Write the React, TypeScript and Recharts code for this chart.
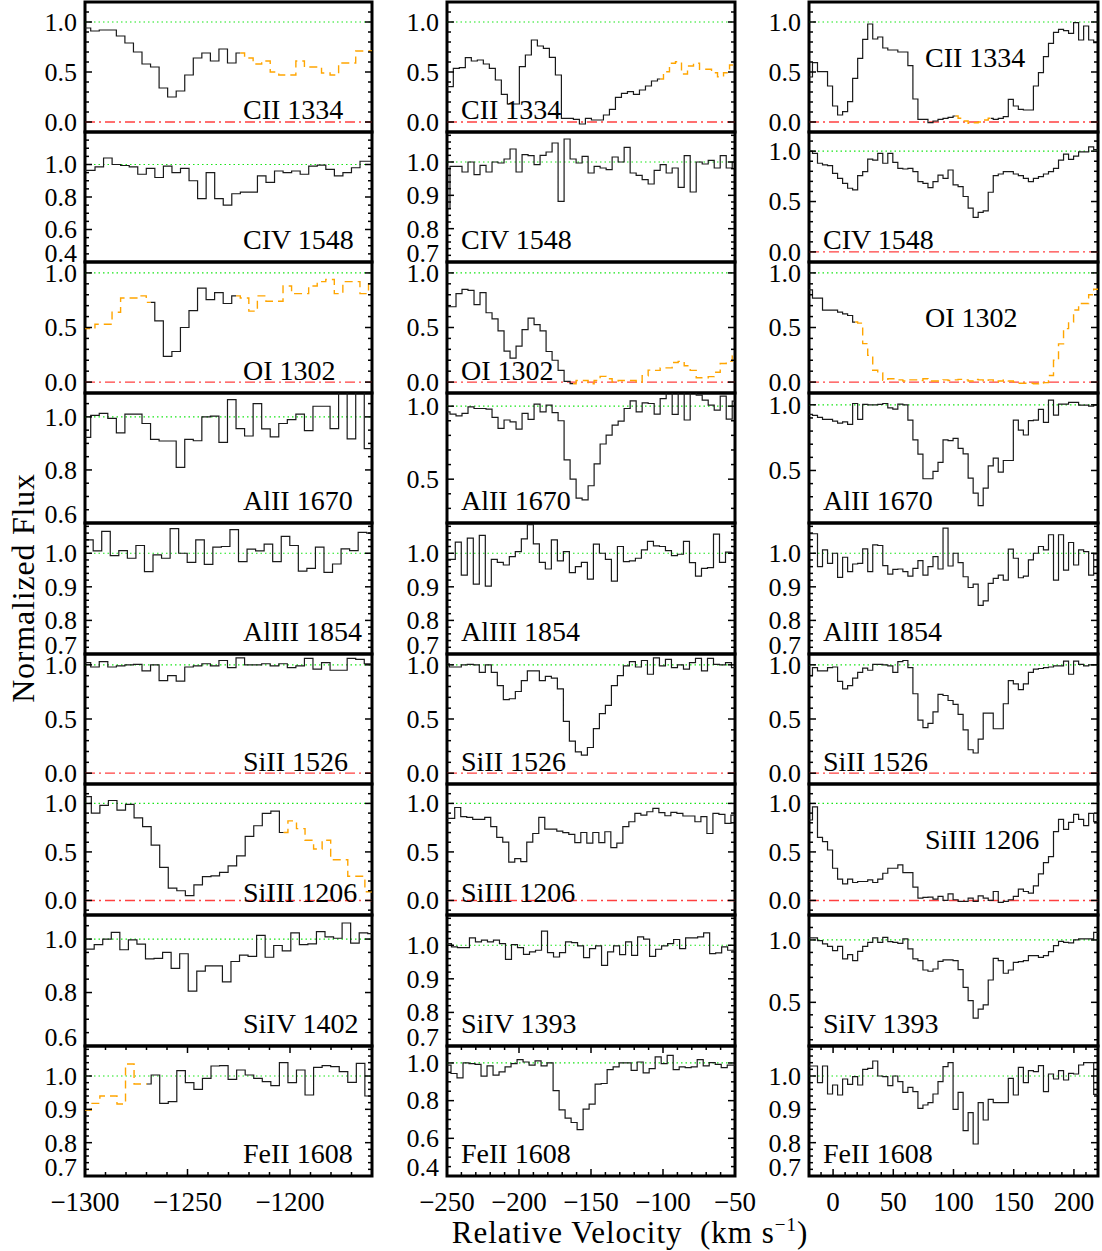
import React from 'react';
import { LineChart, Line, XAxis, YAxis, ReferenceLine, ReferenceArea } from 'recharts';

const FONT = '"Liberation Serif", "Times New Roman", Times, serif';

// velocity width of one spectral bin (km/s)
const DV = 4.17;

// x ranges and labelled ticks of the three columns
const velRanges: [number, number][] = [[-1300, -1160], [-250, -50], [-20, 220]];
const velTicks: number[][] = [
  [-1300, -1250, -1200],
  [-250, -200, -150, -100, -50],
  [0, 50, 100, 150, 200],
];

const labelsA = ['CII 1334', 'CIV 1548', 'OI 1302', 'AlII 1670', 'AlIII 1854', 'SiII 1526', 'SiIII 1206', 'SiIV 1402', 'FeII 1608'];
const labelsB = ['CII 1334', 'CIV 1548', 'OI 1302', 'AlII 1670', 'AlIII 1854', 'SiII 1526', 'SiIII 1206', 'SiIV 1393', 'FeII 1608'];
const labelsC = ['CII 1334', 'CIV 1548', 'OI 1302', 'AlII 1670', 'AlIII 1854', 'SiII 1526', 'SiIII 1206', 'SiIV 1393', 'FeII 1608'];

// y ranges per row: [colA, colB, colC]
const yRanges: [number, number][][] = [
  [[-0.1, 1.2], [-0.1, 1.2], [-0.1, 1.2]],
  [[0.4, 1.2], [0.7, 1.09], [-0.1, 1.19]],
  [[-0.1, 1.1], [-0.1, 1.1], [-0.1, 1.1]],
  [[0.6, 1.09], [0.2, 1.09], [0.1, 1.09]],
  [[0.7, 1.09], [0.7, 1.09], [0.7, 1.09]],
  [[-0.1, 1.1], [-0.1, 1.1], [-0.1, 1.1]],
  [[-0.15, 1.2], [-0.15, 1.2], [-0.15, 1.2]],
  [[0.6, 1.09], [0.7, 1.09], [0.15, 1.2]],
  [[0.7, 1.09], [0.4, 1.09], [0.7, 1.09]],
];

const yTicks: number[][][] = [
  [[0, 0.5, 1], [0, 0.5, 1], [0, 0.5, 1]],
  [[0.4, 0.6, 0.8, 1], [0.7, 0.8, 0.9, 1], [0, 0.5, 1]],
  [[0, 0.5, 1], [0, 0.5, 1], [0, 0.5, 1]],
  [[0.6, 0.8, 1], [0.5, 1], [0.5, 1]],
  [[0.7, 0.8, 0.9, 1], [0.7, 0.8, 0.9, 1], [0.7, 0.8, 0.9, 1]],
  [[0, 0.5, 1], [0, 0.5, 1], [0, 0.5, 1]],
  [[0, 0.5, 1], [0, 0.5, 1], [0, 0.5, 1]],
  [[0.6, 0.8, 1], [0.7, 0.8, 0.9, 1], [0.5, 1]],
  [[0.7, 0.8, 0.9, 1], [0.4, 0.6, 0.8, 1], [0.7, 0.8, 0.9, 1]],
];

// first bin centre (km/s) of each spectrum
const startA = [-1299.3, -1297.2, -1301.4, -1299.3, -1298.1, -1299.3, -1299, -1297.6, -1299];
const startB = [-247.7, -250, -250, -250, -250.5, -250.5, -250.9, -249, -249.3];
const startC = [-19.2, -19.2, -19.2, -19.2, -19.2, -19.2, -19.2, -19.2, -19.2];

// bin index ranges that are blended (orange dashed)
const blendA: [number, number][][] = [[[18, 33]], [], [[0, 8], [18, 34]], [], [], [], [[23, 33]], [], [[0, 7]]];
const blendB: [number, number][][] = [[[35, 48]], [], [[21, 48]], [], [], [], [], [], []];
const blendC: [number, number][][] = [[[29, 36]], [], [[9, 58]], [], [], [], [], [], []];

// ---- column A: -1300 .. -1160 km/s
const ciiA = [0.94, 0.91, 0.92, 0.92, 0.86, 0.79, 0.70, 0.58, 0.55, 0.34, 0.25, 0.31, 0.47, 0.64, 0.69, 0.61, 0.73, 0.59, 0.69, 0.64, 0.58, 0.61, 0.50, 0.47, 0.47, 0.61, 0.55, 0.55, 0.49, 0.47, 0.59, 0.59, 0.71, 0.71];
const civA = [0.964, 0.986, 1.04, 1.0, 0.994, 0.986, 0.94, 0.976, 0.92, 0.99, 0.95, 0.976, 0.90, 0.79, 0.95, 0.79, 0.75, 0.82, 0.83, 0.83, 0.93, 0.89, 0.96, 0.95, 0.96, 0.94, 0.99, 0.996, 0.97, 0.93, 0.95, 0.98, 1.02, 1.02];
const oiA = [0.49, 0.49, 0.53, 0.53, 0.64, 0.77, 0.77, 0.79, 0.73, 0.56, 0.235, 0.28, 0.50, 0.655, 0.86, 0.755, 0.82, 0.72, 0.79, 0.77, 0.65, 0.79, 0.74, 0.74, 0.88, 0.81, 0.81, 0.88, 0.92, 0.94, 0.81, 0.92, 0.92, 0.81, 0.90];
const alIIA = [0.923, 1.006, 1.013, 0.994, 0.94, 1.01, 1.01, 0.975, 0.915, 0.909, 0.909, 0.81, 0.915, 0.91, 1.0, 1.003, 0.904, 1.065, 0.956, 0.928, 1.05, 0.955, 0.925, 0.975, 0.99, 1.01, 0.948, 1.04, 1.04, 0.956, 1.12, 0.917, 1.12, 0.88];
const alIIIA = [1.04, 1.007, 1.065, 0.993, 1.008, 0.985, 1.023, 0.945, 0.995, 0.985, 1.073, 1.0, 0.973, 1.04, 0.967, 1.018, 1.02, 1.07, 0.975, 1.012, 1.007, 1.027, 0.975, 1.05, 1.023, 0.947, 0.955, 1.018, 0.943, 0.968, 1.013, 1.008, 1.062, 1.06];
const siIIA = [1.02, 0.98, 1.03, 0.98, 0.99, 1.0, 1.005, 0.945, 1.0, 0.855, 0.90, 0.85, 0.98, 0.99, 1.01, 0.99, 1.04, 0.975, 1.065, 1.0, 1.0, 1.01, 0.99, 1.01, 0.975, 0.99, 1.06, 0.96, 1.02, 0.95, 0.95, 1.06, 1.05, 1.01];
const siIIIA = [1.07, 0.90, 0.98, 1.03, 0.93, 0.99, 0.85, 0.76, 0.57, 0.34, 0.127, 0.10, 0.05, 0.16, 0.246, 0.253, 0.29, 0.357, 0.46, 0.66, 0.77, 0.897, 0.92, 0.70, 0.82, 0.74, 0.62, 0.53, 0.62, 0.42, 0.42, 0.25, 0.25, 0.09];
const siIVA = [0.962, 0.979, 1.0, 1.025, 0.96, 0.997, 0.981, 0.926, 0.928, 0.95, 0.89, 0.945, 0.805, 0.88, 0.90, 0.90, 0.84, 0.916, 0.94, 0.935, 1.014, 0.932, 0.976, 0.956, 1.023, 0.979, 0.982, 1.028, 1.008, 1.003, 1.06, 0.985, 1.023, 1.02];
const feIIA = [0.898, 0.918, 0.94, 0.94, 0.916, 1.036, 0.976, 0.976, 1.003, 0.918, 0.923, 1.016, 0.98, 0.96, 0.993, 1.03, 1.031, 0.99, 1.018, 1.003, 0.993, 0.983, 0.971, 1.04, 0.98, 1.018, 0.943, 1.026, 1.031, 1.028, 1.013, 0.981, 1.038, 0.94];

// ---- column B: -250 .. -50 km/s
const ciiB = [0.353, 0.537, 0.543, 0.643, 0.61, 0.62, 0.58, 0.537, 0.42, 0.277, 0.18, 0.18, 0.553, 0.67, 0.82, 0.76, 0.737, 0.647, 0.47, 0.037, 0.037, 0.027, -0.02, 0.037, 0.02, 0.02, 0.07, 0.127, 0.247, 0.287, 0.303, 0.277, 0.32, 0.36, 0.41, 0.43, 0.503, 0.587, 0.603, 0.48, 0.56, 0.587, 0.527, 0.527, 0.493, 0.453, 0.493, 0.57, 0.57];
const civB = [0.86, 0.987, 0.987, 0.97, 1.0, 0.962, 0.99, 0.97, 1.0, 0.997, 1.009, 1.039, 0.97, 1.022, 1.019, 0.992, 1.02, 1.03, 1.057, 0.882, 1.069, 1.009, 0.997, 1.017, 0.967, 0.987, 0.982, 0.977, 1.015, 1.0, 1.044, 0.967, 0.96, 0.947, 0.934, 0.975, 0.992, 0.967, 0.982, 0.924, 1.019, 0.91, 1.0, 0.994, 1.005, 0.982, 1.019, 0.982, 1.0];
const oiB = [0.69, 0.69, 0.81, 0.85, 0.84, 0.71, 0.82, 0.635, 0.579, 0.47, 0.283, 0.22, 0.33, 0.48, 0.585, 0.527, 0.47, 0.28, 0.2, 0.107, 0.007, -0.015, 0.015, 0.015, -0.015, 0.015, 0.052, 0.03, 0.0, 0.015, 0.015, 0.015, 0.0, 0.058, 0.11, 0.107, 0.13, 0.13, 0.18, 0.19, 0.15, 0.107, 0.04, 0.04, 0.05, 0.09, 0.17, 0.19, 0.24];
const alIIB = [0.961, 0.945, 0.934, 0.95, 0.995, 0.984, 0.984, 0.98, 0.923, 0.848, 0.905, 0.893, 0.843, 0.95, 0.909, 1.014, 0.961, 1.007, 0.955, 0.9, 0.632, 0.5, 0.37, 0.359, 0.455, 0.605, 0.741, 0.802, 0.87, 0.898, 0.984, 1.036, 0.961, 1.023, 1.018, 0.945, 1.052, 1.11, 0.943, 1.11, 0.905, 1.11, 1.075, 1.041, 1.007, 0.973, 1.068, 0.911, 1.034];
const alIIIB = [0.982, 0.982, 1.033, 0.935, 1.045, 0.908, 1.053, 0.902, 0.982, 0.973, 0.965, 0.99, 1.005, 1.043, 1.085, 1.028, 0.973, 0.953, 1.04, 0.977, 1.005, 0.942, 0.96, 0.973, 0.923, 1.027, 1.0, 0.982, 0.917, 1.02, 0.975, 0.977, 0.985, 1.01, 1.035, 1.022, 1.02, 1.008, 0.993, 0.997, 1.035, 0.972, 0.932, 0.955, 0.957, 1.057, 0.973, 1.003, 1.0];
const siIIB = [1.01, 0.98, 0.98, 1.0, 1.005, 1.0, 0.93, 1.0, 0.93, 0.808, 0.678, 0.687, 0.754, 0.854, 0.945, 0.945, 0.854, 0.893, 0.878, 0.778, 0.478, 0.295, 0.197, 0.167, 0.237, 0.411, 0.549, 0.625, 0.808, 0.9, 0.99, 1.03, 0.98, 1.04, 0.913, 1.065, 0.99, 1.05, 0.975, 1.0, 0.96, 1.02, 1.06, 0.945, 1.06, 1.005, 1.0, 1.02, 0.975];
const siIIIB = [0.846, 0.846, 0.958, 0.863, 0.856, 0.835, 0.835, 0.856, 0.76, 0.65, 0.6, 0.395, 0.43, 0.40, 0.6, 0.69, 0.856, 0.736, 0.736, 0.715, 0.698, 0.68, 0.596, 0.70, 0.59, 0.70, 0.596, 0.708, 0.544, 0.59, 0.76, 0.811, 0.897, 0.88, 0.914, 0.948, 0.904, 0.873, 0.907, 0.897, 0.87, 0.87, 0.811, 0.863, 0.69, 0.897, 0.887, 0.794, 0.88];
const siIVB = [1.005, 0.995, 0.993, 0.993, 1.022, 1.01, 1.015, 1.01, 1.015, 1.005, 0.958, 1.002, 0.993, 0.973, 0.98, 0.985, 1.042, 0.978, 0.965, 0.978, 1.01, 1.008, 0.998, 0.963, 0.99, 0.998, 0.94, 0.98, 0.998, 0.972, 1.01, 0.97, 1.025, 1.018, 0.967, 0.988, 0.998, 1.005, 1.017, 0.99, 1.022, 1.022, 1.025, 1.037, 0.975, 0.977, 0.995, 0.985, 0.985];
const feIIB = [0.988, 0.944, 0.921, 1.0, 0.996, 0.993, 0.93, 0.984, 0.935, 0.953, 0.979, 0.996, 1.018, 1.005, 0.988, 1.011, 0.984, 1.0, 0.853, 0.751, 0.707, 0.684, 0.646, 0.755, 0.782, 0.888, 0.891, 0.965, 0.979, 1.0, 1.0, 0.961, 1.005, 0.947, 0.97, 1.032, 0.996, 1.04, 0.965, 0.979, 0.975, 0.979, 1.018, 0.984, 1.002, 0.993, 0.975, 0.988, 0.988];

// ---- column C: -20 .. 220 km/s
const ciiC = [0.45, 0.593, 0.503, 0.503, 0.36, 0.16, 0.07, 0.103, 0.203, 0.437, 0.637, 0.827, 0.98, 0.83, 0.85, 0.74, 0.72, 0.72, 0.70, 0.70, 0.563, 0.23, 0.027, 0.027, -0.007, 0.01, 0.027, 0.037, 0.047, 0.06, 0.037, 0.01, -0.013, -0.007, 0.0, 0.02, 0.037, 0.027, 0.037, 0.053, 0.227, 0.16, 0.127, 0.12, 0.12, 0.36, 0.493, 0.653, 0.787, 0.897, 0.927, 0.913, 0.887, 0.993, 0.82, 0.96, 0.82, 0.793];
const civC = [1.0, 0.977, 0.88, 0.863, 0.857, 0.78, 0.73, 0.681, 0.632, 0.615, 0.757, 0.796, 0.921, 0.911, 0.977, 0.88, 0.977, 0.888, 0.829, 0.823, 0.829, 0.796, 0.698, 0.681, 0.638, 0.698, 0.763, 0.73, 0.813, 0.665, 0.648, 0.55, 0.435, 0.343, 0.392, 0.408, 0.592, 0.757, 0.773, 0.796, 0.796, 0.773, 0.757, 0.73, 0.698, 0.73, 0.747, 0.773, 0.796, 0.829, 0.911, 0.97, 0.918, 0.95, 0.993, 0.993, 1.043, 1.016, 0.993];
const oiC = [0.845, 0.77, 0.77, 0.66, 0.66, 0.66, 0.64, 0.624, 0.61, 0.55, 0.54, 0.352, 0.245, 0.108, 0.084, 0.017, 0.03, 0.03, 0.02, 0.01, 0.02, 0.02, 0.015, 0.03, 0.01, 0.01, 0.01, 0.02, 0.015, 0.02, 0.025, 0.02, 0.01, 0.025, 0.02, 0.01, 0.02, 0.0, 0.01, 0.02, 0.01, 0.0, -0.01, -0.01, -0.01, -0.015, -0.01, -0.005, 0.06, 0.2, 0.35, 0.49, 0.55, 0.66, 0.72, 0.72, 0.8, 0.85, 0.85];
const alIIC = [0.927, 0.92, 0.905, 0.889, 0.889, 0.876, 0.86, 0.87, 0.851, 1.01, 0.889, 1.003, 1.0, 1.0, 1.003, 1.01, 0.977, 0.967, 1.005, 1.0, 0.884, 0.733, 0.624, 0.437, 0.437, 0.493, 0.561, 0.733, 0.727, 0.745, 0.669, 0.626, 0.442, 0.328, 0.232, 0.366, 0.535, 0.594, 0.488, 0.576, 0.576, 0.884, 0.808, 0.77, 0.879, 0.884, 0.965, 0.866, 1.035, 0.922, 1.005, 1.005, 1.018, 1.018, 0.998, 0.998, 0.99, 0.998, 1.0];
const alIIIC = [1.058, 1.058, 0.96, 1.01, 0.97, 1.0, 0.928, 0.988, 0.945, 0.968, 0.97, 1.013, 0.945, 1.025, 1.023, 0.963, 0.938, 0.952, 0.953, 0.945, 0.932, 0.955, 0.978, 0.935, 0.96, 0.99, 0.953, 1.075, 0.962, 1.0, 0.972, 0.93, 0.898, 0.908, 0.845, 0.858, 0.91, 0.925, 0.935, 0.92, 1.012, 0.985, 0.927, 0.932, 0.98, 1.0, 1.02, 1.01, 1.055, 0.92, 1.055, 0.95, 1.032, 0.965, 1.01, 1.005, 0.935, 0.998, 1.0];
const siIIC = [0.9, 0.975, 0.945, 0.945, 0.975, 0.98, 0.847, 0.778, 0.808, 0.878, 0.93, 0.97, 0.95, 1.005, 1.005, 1.0, 0.99, 0.93, 1.03, 1.04, 0.975, 0.733, 0.49, 0.42, 0.46, 0.565, 0.727, 0.717, 0.671, 0.635, 0.543, 0.399, 0.216, 0.186, 0.314, 0.555, 0.555, 0.41, 0.41, 0.641, 0.854, 0.824, 0.772, 0.824, 0.93, 0.96, 0.966, 0.975, 0.98, 0.99, 0.99, 1.035, 0.913, 1.035, 1.005, 0.99, 1.0, 1.0, 0.99];
const siIIIC = [0.829, 0.965, 0.65, 0.606, 0.52, 0.332, 0.219, 0.171, 0.219, 0.185, 0.195, 0.195, 0.212, 0.185, 0.219, 0.28, 0.332, 0.332, 0.366, 0.287, 0.287, 0.137, 0.024, 0.031, 0.034, 0.014, 0.041, 0.0, 0.068, 0.007, -0.01, -0.01, 0.024, -0.01, 0.048, 0.024, 0.0, 0.092, -0.02, -0.01, 0.007, 0.041, 0.116, 0.092, 0.075, 0.15, 0.274, 0.39, 0.452, 0.709, 0.836, 0.733, 0.805, 0.887, 0.836, 0.771, 0.897, 0.812, 1.0];
const siIVC = [1.016, 1.016, 0.995, 0.968, 0.949, 0.914, 0.949, 0.848, 0.882, 0.834, 0.909, 0.949, 0.981, 1.016, 0.981, 1.021, 0.987, 0.981, 0.973, 1.008, 0.928, 0.848, 0.834, 0.759, 0.749, 0.767, 0.829, 0.84, 0.84, 0.834, 0.762, 0.62, 0.513, 0.374, 0.446, 0.479, 0.679, 0.853, 0.834, 0.733, 0.759, 0.821, 0.826, 0.834, 0.874, 0.874, 0.861, 0.874, 0.906, 0.955, 0.989, 0.981, 0.976, 1.0, 1.008, 1.008, 1.008, 1.061, 1.061];
const feIIC = [1.03, 1.03, 0.98, 1.03, 0.946, 0.973, 0.943, 0.991, 0.975, 0.998, 0.973, 1.02, 1.023, 1.045, 1.0, 0.998, 0.971, 1.0, 0.983, 0.951, 0.966, 0.953, 0.903, 0.913, 0.92, 0.946, 0.983, 1.028, 1.04, 0.9, 0.951, 0.836, 0.89, 0.796, 0.92, 0.868, 0.93, 0.92, 0.92, 0.92, 0.993, 0.943, 1.026, 0.98, 1.016, 1.013, 1.031, 0.953, 1.006, 0.991, 1.016, 0.988, 1.008, 1.006, 1.033, 1.04, 1.04, 0.945, 1.03];

const fluxCols = [
  [ciiA, civA, oiA, alIIA, alIIIA, siIIA, siIIIA, siIVA, feIIA],
  [ciiB, civB, oiB, alIIB, alIIIB, siIIB, siIIIB, siIVB, feIIB],
  [ciiC, civC, oiC, alIIC, alIIIC, siIIC, siIIIC, siIVC, feIIC],
];
const startCols = [startA, startB, startC];
const blendCols = [blendA, blendB, blendC];
const labelCols = [labelsA, labelsB, labelsC];

// layout of the panel grid (plot-area pixels)
const COL_LEFT = [85, 447, 809];
const COL_W = [287, 288, 289];
const ROW_EDGES = [2, 132, 262, 393, 523, 654, 784, 915, 1046, 1176];
const YW = 70;
const PAD = 4;

type Row = { v: number; main: number | null; blend: number | null };

function buildRows(flux: number[], v0: number, blend: [number, number][], xr: [number, number]): Row[] {
  const n = flux.length;
  const inBlend = (i: number) => blend.some(([s, e]) => i >= s && i <= e);
  const inside = (i: number) =>
    blend.some(([s, e]) => i >= s && i <= e && (i > s || s === 0) && (i < e || e === n - 1));
  const rows: Row[] = flux.map((f, i) => ({
    v: +(v0 + i * DV).toFixed(2),
    main: inside(i) ? null : f,
    blend: inBlend(i) ? f : null,
  }));
  const first = rows[0];
  const last = rows[rows.length - 1];
  if (first.v > xr[0]) rows.unshift({ ...first, v: xr[0] });
  if (last.v < xr[1]) rows.push({ ...last, v: xr[1] });
  return rows;
}

function tickList(majors: number[], range: [number, number], minor: number) {
  const out: number[] = [];
  for (let k = Math.ceil(range[0] / minor - 1e-6); k * minor <= range[1] + 1e-9; k++) {
    out.push(+(k * minor).toFixed(3));
  }
  majors.forEach((m) => {
    if (!out.some((t) => Math.abs(t - m) < 1e-6)) out.push(m);
  });
  return out.sort((a, b) => a - b);
}

const fmtVel = (v: number) => (v < 0 ? '\u2212' + Math.abs(v) : String(v));

function Panel({ row, col }: { row: number; col: number }) {
  const xr = velRanges[col];
  const yr = yRanges[row][col];
  const majors = yTicks[row][col];
  const w = COL_W[col];
  const top = ROW_EDGES[row];
  const h = ROW_EDGES[row + 1] - top;
  const isBottom = row === ROW_EDGES.length - 2;
  const XH = isBottom ? 44 : 0;
  const extraR = isBottom ? 26 : 0; // room for the last velocity label
  const data = buildRows(fluxCols[col][row], startCols[col][row], blendCols[col][row], xr);

  const step = majors.length > 1 ? majors[1] - majors[0] : 0.5;
  const yMinor = step > 0.3 ? 0.1 : step > 0.15 ? 0.05 : 0.02;
  const yAll = tickList(majors, yr, yMinor);
  const xAll = tickList(velTicks[col], xr, 10);
  const showZero = yr[0] < 0;

  const renderY = (p: any) => {
    const v = p.payload.value;
    const major = majors.some((m) => Math.abs(m - v) < 1e-6);
    const len = major ? 7 : 4;
    const shift = major && Math.abs(v - yr[0]) < 1e-6 ? -9 : 0;
    return (
      <g>
        <line x1={p.x} x2={p.x + len} y1={p.y} y2={p.y} stroke="#000" strokeWidth={1.5} />
        <line x1={p.x + w - len} x2={p.x + w} y1={p.y} y2={p.y} stroke="#000" strokeWidth={1.5} />
        {major && (
          <text x={p.x - 8} y={p.y + shift} dy="0.34em" textAnchor="end" fontSize={26} fontFamily={FONT} fill="#000">
            {v.toFixed(1)}
          </text>
        )}
      </g>
    );
  };

  const renderX = (p: any) => {
    const v = p.payload.value;
    const major = velTicks[col].includes(v);
    const len = major ? 7 : 4;
    return (
      <g>
        <line x1={p.x} x2={p.x} y1={p.y} y2={p.y - len} stroke="#000" strokeWidth={1.5} />
        <line x1={p.x} x2={p.x} y1={p.y - h} y2={p.y - h + len} stroke="#000" strokeWidth={1.5} />
        {major && isBottom && (
          <text x={p.x} y={p.y + 35} textAnchor="middle" fontSize={27} fontFamily={FONT} fill="#000">
            {fmtVel(v)}
          </text>
        )}
      </g>
    );
  };

  return (
    <div style={{ position: 'absolute', left: COL_LEFT[col] - YW, top: top - PAD }}>
      <LineChart
        width={YW + w + PAD + extraR}
        height={PAD + h + XH + PAD}
        data={data}
        margin={{ top: PAD, right: PAD + extraR, bottom: PAD, left: 0 }}
      >
        <XAxis
          dataKey="v"
          type="number"
          domain={xr}
          allowDataOverflow
          ticks={xAll}
          interval={0}
          height={XH}
          tickSize={0}
          tickMargin={0}
          tickLine={false}
          axisLine={false}
          tick={renderX}
        />
        <YAxis
          type="number"
          domain={yr}
          allowDataOverflow
          ticks={yAll}
          interval={0}
          width={YW}
          tickSize={0}
          tickMargin={0}
          tickLine={false}
          axisLine={false}
          tick={renderY}
        />
        <ReferenceLine y={1} stroke="#19e619" strokeWidth={1.2} strokeDasharray="1.5 3" />
        {showZero && <ReferenceLine y={0} stroke="#ff4040" strokeWidth={1.4} strokeDasharray="10 4 2 4" />}
        <Line
          dataKey="main"
          type="step"
          stroke="#1a1a1a"
          strokeWidth={1.2}
          dot={false}
          activeDot={false}
          connectNulls={false}
          isAnimationActive={false}
        />
        <Line
          dataKey="blend"
          type="step"
          stroke="#ffa500"
          strokeWidth={1.4}
          strokeDasharray="8 5"
          dot={false}
          activeDot={false}
          connectNulls={false}
          isAnimationActive={false}
        />
        <ReferenceArea x1={xr[0]} x2={xr[1]} y1={yr[0]} y2={yr[1]} fill="none" stroke="#000" strokeWidth={3} ifOverflow="visible" />
      </LineChart>
    </div>
  );
}

// labels drawn in the middle of some right-column panels
const midLabelRows = [0, 2, 6];

export default function App() {
  const rowsIdx = [0, 1, 2, 3, 4, 5, 6, 7, 8];
  const colsIdx = [0, 1, 2];
  return (
    <div
      style={{
        position: 'absolute',
        left: 0,
        top: 0,
        width: 1102,
        height: 1251,
        background: '#fff',
        overflow: 'hidden',
        fontFamily: FONT,
      }}
    >
      {rowsIdx.map((r) => colsIdx.map((c) => <Panel key={`${r}-${c}`} row={r} col={c} />))}
      <svg width={1102} height={1251} style={{ position: 'absolute', left: 0, top: 0, pointerEvents: 'none' }}>
        {rowsIdx.map((r) =>
          colsIdx.map((c) => {
            const mid = c === 2 && midLabelRows.includes(r);
            const x = c === 0 ? 243 : COL_LEFT[c] + (mid ? 116 : 14);
            const y = mid ? ROW_EDGES[r] + 65 : ROW_EDGES[r + 1] - 13;
            return (
              <text key={`l${r}-${c}`} x={x} y={y} fontSize={28} fontFamily={FONT} fill="#000">
                {labelCols[c][r]}
              </text>
            );
          })
        )}
        <text
          transform="translate(34,588) rotate(-90)"
          textAnchor="middle"
          fontSize={32}
          fontFamily={FONT}
          letterSpacing={0.8}
          fill="#000"
        >
          Normalized Flux
        </text>
        <text x={630} y={1243} textAnchor="middle" fontSize={31} fontFamily={FONT} letterSpacing={1} fill="#000" style={{ whiteSpace: 'pre' }}>
          {'Relative Velocity  (km s'}
          <tspan dy={-12} fontSize={19}>
            {'\u22121'}
          </tspan>
          <tspan dy={12}>)</tspan>
        </text>
      </svg>
    </div>
  );
}
